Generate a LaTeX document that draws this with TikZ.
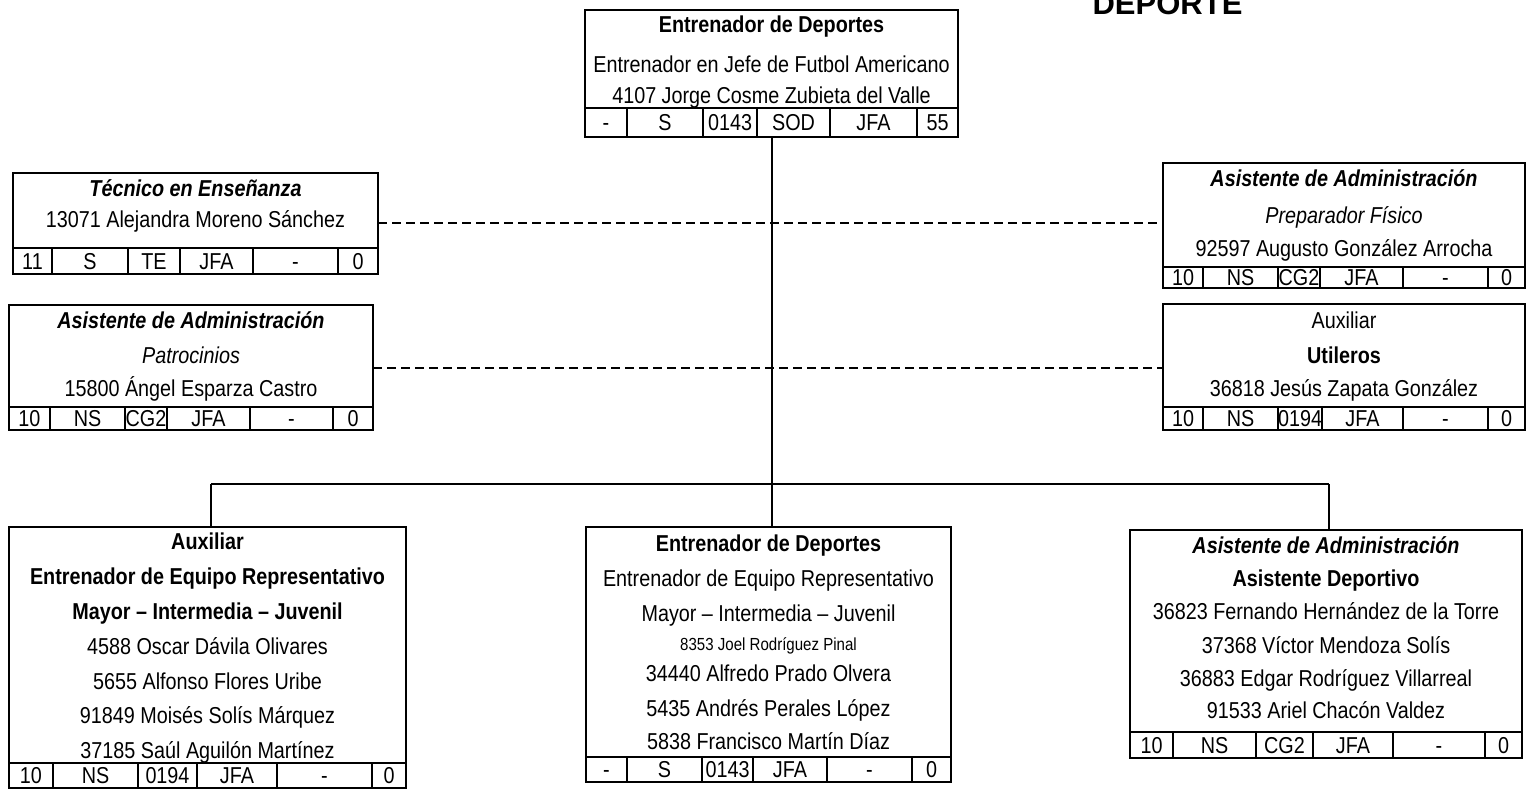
\documentclass[tikz,border=0pt]{standalone}
\usepackage{fontspec}
\setmainfont{Liberation Sans}[FakeStretch=0.86]
\newfontfamily\titlefont{Liberation Sans}
\tikzset{
  box/.style={draw, line width=2pt, inner sep=0pt, outer sep=0pt},
  txt/.style={inner sep=0pt, text height=16.5pt, text depth=0pt, font=\fontsize{23}{27}\selectfont},
  smalltxt/.style={inner sep=0pt, text height=12.5pt, text depth=0pt, font=\fontsize{17.5}{20}\selectfont},
  rule/.style={line width=2pt},
  conn/.style={line width=2pt},
  dashconn/.style={line width=2pt, dash pattern=on 9pt off 5pt},
}
\newcommand\orgbox[6]{%
  \node[box, minimum width={#3-#2}, minimum height={#5-#4}] (#1) at ({(#2+#3)/2},{(#4+#5)/2}) {};
  \draw[rule] (#2,#6) -- (#3,#6);
}
\newcommand\orgtab[4]{%
  \foreach \xa/\xb/\ctext [count=\ci] in {#4} {
    \draw[rule] (\xa,#2) -- (\xa,#3);
    \node[txt] (#1-c\ci) at ({(\xa+\xb)/2},{(#2+#3)/2}) {\ctext};
  }
}
\begin{document}
\begin{tikzpicture}[x=1pt,y=-1pt]
\useasboundingbox[fill=white] (0,0) rectangle (1528,794);

% title (cut by the top edge, as in the reference)
\node[anchor=base, inner sep=0pt, font=\titlefont\fontsize{31}{31}\selectfont\bfseries] (title) at (1167.5,15) {DEPORTE};

% ---- top box
\orgbox{T}{585}{958}{10}{137}{108}
\node[txt] (T-1) at (771.5,24) {\bfseries Entrenador de Deportes};
\node[txt] (T-2) at (771.5,64.5) {Entrenador en Jefe de Futbol Americano};
\node[txt] (T-3) at (771.5,95) {4107 Jorge Cosme Zubieta del Valle};
\orgtab{T}{108}{137}{585/627/-, 627/703/S, 703/757/0143, 757/830/SOD, 830/917/JFA, 917/958/55}

% ---- top left
\orgbox{TL}{13}{378}{173}{274}{248}
\node[txt] (TL-1) at (195.5,188) {\bfseries\itshape Técnico en Enseñanza};
\node[txt] (TL-2) at (195.5,219) {13071 Alejandra Moreno Sánchez};
\orgtab{TL}{248}{274}{13/52/11, 52/128/S, 128/180/TE, 180/253/JFA, 253/338/-, 338/378/0}

% ---- top right
\orgbox{TR}{1163}{1525}{163}{288}{267}
\node[txt] (TR-1) at (1344,178.5) {\bfseries\itshape Asistente de Administración};
\node[txt] (TR-2) at (1344,215) {\itshape Preparador Físico};
\node[txt] (TR-3) at (1344,248.5) {92597 Augusto González Arrocha};
\orgtab{TR}{267}{288}{1163/1203/10, 1203/1278/NS, 1278/1320/CG2, 1320/1403/JFA, 1403/1488/-, 1488/1525/0}

% ---- middle left
\orgbox{ML}{9}{373}{305}{430}{407}
\node[txt] (ML-1) at (191,320) {\bfseries\itshape Asistente de Administración};
\node[txt] (ML-2) at (191,355) {\itshape Patrocinios};
\node[txt] (ML-3) at (191,388) {15800 Ángel Esparza Castro};
\orgtab{ML}{407}{430}{9/50/10, 50/125/NS, 125/167/CG2, 167/250/JFA, 250/333/-, 333/373/0}

% ---- middle right
\orgbox{MR}{1163}{1525}{304}{430}{407}
\node[txt] (MR-1) at (1344,320) {Auxiliar};
\node[txt] (MR-2) at (1344,355) {\bfseries Utileros};
\node[txt] (MR-3) at (1344,388) {36818 Jesús Zapata González};
\orgtab{MR}{407}{430}{1163/1203/10, 1203/1278/NS, 1278/1322/0194, 1322/1403/JFA, 1403/1488/-, 1488/1525/0}

% ---- bottom left
\orgbox{BL}{9}{406}{527}{788}{763}
\node[txt] (BL-1) at (207.5,541.5) {\bfseries Auxiliar};
\node[txt] (BL-2) at (207.5,576.5) {\bfseries Entrenador de Equipo Representativo};
\node[txt] (BL-3) at (207.5,611.5) {\bfseries Mayor – Intermedia – Juvenil};
\node[txt] (BL-4) at (207.5,646.5) {4588 Oscar Dávila Olivares};
\node[txt] (BL-5) at (207.5,681.5) {5655 Alfonso Flores Uribe};
\node[txt] (BL-6) at (207.5,715) {91849 Moisés Solís Márquez};
\node[txt] (BL-7) at (207.5,750) {37185 Saúl Aguilón Martínez};
\orgtab{BL}{763}{788}{9/53/10, 53/138/NS, 138/197/0194, 197/277/JFA, 277/372/-, 372/406/0}

% ---- bottom centre
\orgbox{BC}{586}{951}{527}{782}{757}
\node[txt] (BC-1) at (768.5,543) {\bfseries Entrenador de Deportes};
\node[txt] (BC-2) at (768.5,578) {Entrenador de Equipo Representativo};
\node[txt] (BC-3) at (768.5,613) {Mayor – Intermedia – Juvenil};
\node[smalltxt] (BC-4) at (768.5,644) {8353 Joel Rodríguez Pinal};
\node[txt] (BC-5) at (768.5,673.5) {34440 Alfredo Prado Olvera};
\node[txt] (BC-6) at (768.5,708) {5435 Andrés Perales López};
\node[txt] (BC-7) at (768.5,741.5) {5838 Francisco Martín Díaz};
\orgtab{BC}{757}{782}{586/627/-, 627/702/S, 702/753/0143, 753/827/JFA, 827/912/-, 912/951/0}

% ---- bottom right
\orgbox{BR}{1130}{1522}{530}{758}{732}
\node[txt] (BR-1) at (1326,545) {\bfseries\itshape Asistente de Administración};
\node[txt] (BR-2) at (1326,578) {\bfseries Asistente Deportivo};
\node[txt] (BR-3) at (1326,611.5) {36823 Fernando Hernández de la Torre};
\node[txt] (BR-4) at (1326,645) {37368 Víctor Mendoza Solís};
\node[txt] (BR-5) at (1326,678.5) {36883 Edgar Rodríguez Villarreal};
\node[txt] (BR-6) at (1326,710) {91533 Ariel Chacón Valdez};
\orgtab{BR}{732}{758}{1130/1173/10, 1173/1256/NS, 1256/1313/CG2, 1313/1393/JFA, 1393/1485/-, 1485/1522/0}

% ---- connectors
\coordinate (jl) at (211,484);
\coordinate (jr) at (1329,484);
\draw[conn] (T.south) -- (T.south |- BC.north);
\draw[conn] (jl) -- (jr);
\draw[conn] (jl) -- (jl |- BL.north);
\draw[conn] (jr) -- (jr |- BR.north);
\draw[dashconn] (TL.east) -- (TL.east -| TR.west);
\draw[dashconn] (ML.east) -- (ML.east -| MR.west);
\end{tikzpicture}
\end{document}
